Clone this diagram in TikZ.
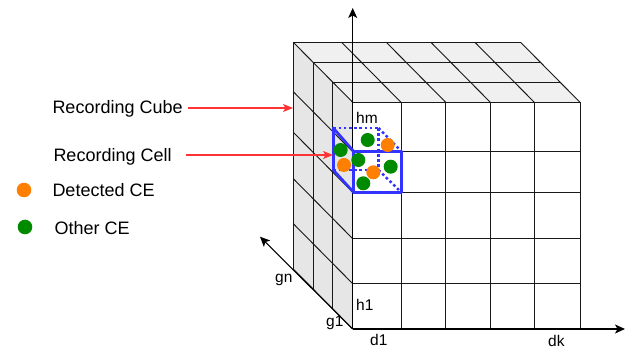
\documentclass[tikz,border=0pt]{standalone}
\usepackage{fontspec}
\setmainfont{Liberation Sans}
\usetikzlibrary{arrows.meta,calc}
\definecolor{topgray}{HTML}{F0F0F0}
\definecolor{sidegray}{HTML}{E6E6E6}
\definecolor{cellblue}{HTML}{3333FF}
\definecolor{ceorange}{HTML}{FF8000}
\definecolor{cegreen}{HTML}{008A00}
\definecolor{arrowred}{HTML}{FF3333}
\begin{document}
\begin{tikzpicture}[x=1pt,y=-1pt,
  gridline/.style={draw=black!90, line width=0.95pt},
  axisline/.style={draw=black, line width=1.1pt, -{Stealth[length=10pt,width=9pt,inset=2.5pt]}},
  redarrow/.style={draw=arrowred, line width=1.3pt, -{Stealth[length=10pt,width=8pt,inset=2.5pt]}},
  legendtext/.style={font=\fontsize{18}{21}\selectfont, inner sep=0pt, anchor=base west},
  axislabel/.style={font=\fontsize{15.5}{18}\selectfont, inner sep=0pt, anchor=base west},
  cellsolid/.style={draw=cellblue, line width=2.7pt, line join=round, line cap=round},
  celldot/.style={draw=cellblue, line width=2.5pt, dash pattern=on 2.6pt off 2.6pt},
  ceo/.style={fill=ceorange, draw=none},
  ceg/.style={fill=cegreen, draw=none}]
\useasboundingbox (0,0) rectangle (635,352);

% faces
\fill[topgray] (293.3,42.3) -- (520.6,42.3) -- (580,102.3) -- (352.7,102.3) -- cycle;
\fill[sidegray] (293.3,42.3) -- (352.7,102.3) -- (352.7,329) -- (293.3,269) -- cycle;

% top face: depth lines
\foreach \k in {0,1,2,3}{
  \draw[gridline] (352.7-19.8*\k,102.3-20*\k) -- (580-19.8*\k,102.3-20*\k);
}
% top face: column lines
\foreach \x in {352.7,401,445.7,490.3,534.3,580}{
  \draw[gridline] (\x,102.3) -- (\x-59.4,42.3);
}
% left face: layer verticals
\foreach \k in {1,2,3}{
  \draw[gridline] (352.7-19.8*\k,102.3-20*\k) -- (352.7-19.8*\k,329-20*\k);
}
% left face: row diagonals
\foreach \y in {151.7,192.3,238.7,283.7,329}{
  \draw[gridline] (352.7,\y) -- (293.3,\y-60);
}
% front face grid
\foreach \x in {352.7,401,445.7,490.3,534.3,580}{
  \draw[gridline] (\x,102.3) -- (\x,329);
}
\foreach \y in {102.3,151.7,192.3,238.7,283.7,329}{
  \draw[gridline] (352.7,\y) -- (580,\y);
}

% axes
\coordinate (O) at (352.7,329);
\coordinate (ytip) at (352.7,8);
\coordinate (xtip) at (625,329);
\coordinate (ztip) at (260,236.7);
\draw[axisline] (O) -- (ytip);
\draw[axisline] (O) -- (xtip);
\draw[axisline] (O) -- (ztip);

% recording cell
\coordinate (fa) at (353.8,151.5);
\coordinate (fb) at (401.5,151.5);
\coordinate (fc) at (401.5,192.5);
\coordinate (fd) at (353.8,192.5);
\coordinate (ba) at (333.3,128);
\coordinate (bb) at (378.5,128);
\coordinate (bc) at (378.5,170);
\coordinate (bd) at (333.3,170);
\draw[celldot] (ba) -- (bb);
\draw[celldot] (bb) -- (bc);
\draw[celldot] (bd) -- (bc);
\draw[celldot] (bb) -- (fb);
\draw[celldot] (bc) -- (fc);
\draw[cellsolid] (fa) -- (fb) -- (fc) -- (fd) -- cycle;
\draw[cellsolid] (ba) -- (fa);
\draw[cellsolid] (bd) -- (fd);
\draw[cellsolid] (ba) -- (bd);

% CE dots
\fill[ceo] (387.7,145) circle (7);
\fill[ceo] (344,165) circle (7);
\fill[ceo] (373.3,172.3) circle (7);
\fill[ceg] (367.7,140) circle (7);
\fill[ceg] (340.7,150) circle (7);
\fill[ceg] (358.3,160) circle (7);
\fill[ceg] (390.7,166.7) circle (7);
\fill[ceg] (363.3,183.3) circle (7);

% axis labels
\node[axislabel] (hm) at (356,124) {hm};
\node[axislabel] (h1) at (356,311) {h1};
\node[axislabel] (g1) at (326,327) {g1};
\node[axislabel] (gn) at (275,283) {gn};
\node[axislabel] (d1) at (370,346) {d1};
\node[axislabel] (dk) at (548,346.5) {dk};

% legend
\node[legendtext] (cube) at (52.3,113.3) {Recording Cube};
\node[legendtext] (cell) at (53.3,161.7) {Recording Cell};
\node[legendtext] (det) at (52.3,196.7) {Detected CE};
\node[legendtext] (oth) at (54.3,235) {Other CE};
\fill[ceo] (24,190) circle (7.3);
\fill[ceg] (25,227) circle (7.3);

\coordinate (cubestart) at (188.3,108);
\coordinate (cubeend) at (293,108);
\coordinate (cellstart) at (186,155);
\coordinate (cellend) at (333,155);
\draw[redarrow] (cubestart) -- (cubeend);
\draw[redarrow] (cellstart) -- (cellend);
\end{tikzpicture}
\end{document}
